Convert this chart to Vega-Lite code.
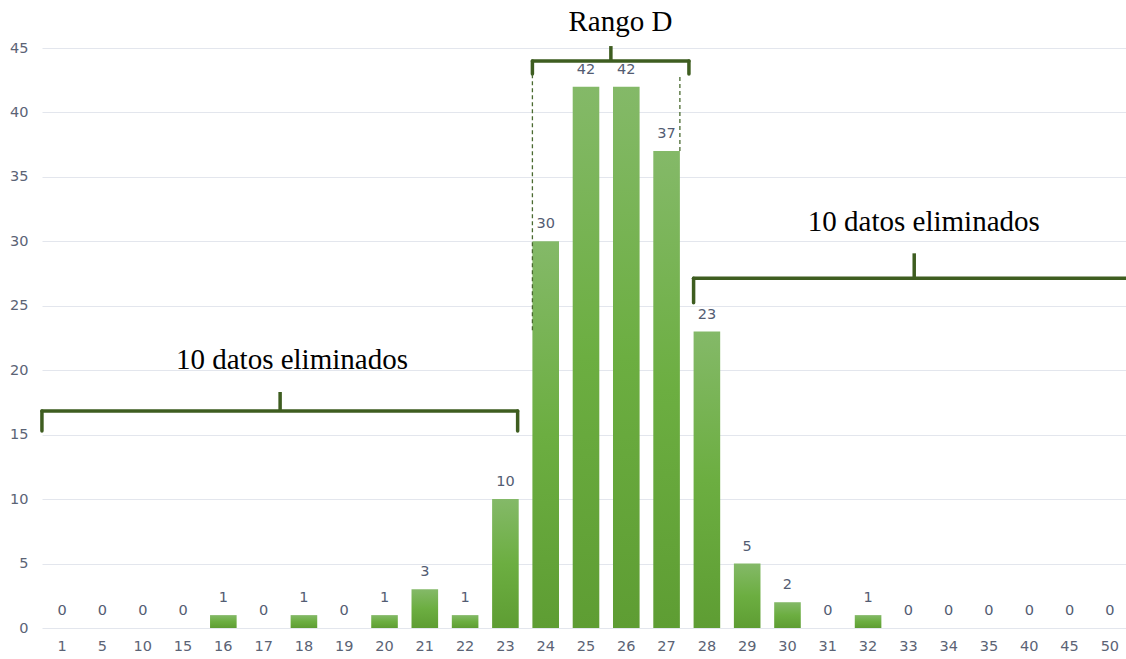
{
  "$schema": "https://vega.github.io/schema/vega-lite/v6.json",
  "width": 1084,
  "height": 580,
  "autosize": "none",
  "padding": {"left": 42, "top": 48, "right": 0, "bottom": 31},
  "background": "#ffffff",
  "config": {
    "view": {"stroke": null},
    "axis": {"labelFont": "DejaVu Sans", "labelFontSize": 14.5, "labelColor": "#5b6375"}
  },
  "data": {
    "values": [
      {"cat": "1", "count": 0}, {"cat": "5", "count": 0}, {"cat": "10", "count": 0},
      {"cat": "15", "count": 0}, {"cat": "16", "count": 1}, {"cat": "17", "count": 0},
      {"cat": "18", "count": 1}, {"cat": "19", "count": 0}, {"cat": "20", "count": 1},
      {"cat": "21", "count": 3}, {"cat": "22", "count": 1}, {"cat": "23", "count": 10},
      {"cat": "24", "count": 30}, {"cat": "25", "count": 42}, {"cat": "26", "count": 42},
      {"cat": "27", "count": 37}, {"cat": "28", "count": 23}, {"cat": "29", "count": 5},
      {"cat": "30", "count": 2}, {"cat": "31", "count": 0}, {"cat": "32", "count": 1},
      {"cat": "33", "count": 0}, {"cat": "34", "count": 0}, {"cat": "35", "count": 0},
      {"cat": "40", "count": 0}, {"cat": "45", "count": 0}, {"cat": "50", "count": 0}
    ]
  },
  "layer": [
    {
      "mark": {
        "type": "bar",
        "color": {
          "gradient": "linear", "x1": 0, "y1": 0, "x2": 0, "y2": 1,
          "stops": [
            {"offset": 0, "color": "#84b968"},
            {"offset": 0.5, "color": "#6cae41"},
            {"offset": 1, "color": "#5e9d33"}
          ]
        }
      },
      "encoding": {
        "x": {
          "field": "cat", "type": "ordinal", "title": null,
          "scale": {
            "domain": ["1","5","10","15","16","17","18","19","20","21","22","23","24","25","26","27","28","29","30","31","32","33","34","35","40","45","50"],
            "range": [0, 1088],
            "paddingInner": 0.34, "paddingOuter": 0.17
          },
          "axis": {"labelAngle": 0, "domain": false, "ticks": false, "grid": false, "labelPadding": 11}
        },
        "y": {
          "field": "count", "type": "quantitative", "title": null,
          "scale": {"domain": [0, 45], "nice": false},
          "axis": {
            "values": [0, 5, 10, 15, 20, 25, 30, 35, 40, 45],
            "domain": false, "ticks": false, "labelPadding": 14,
            "gridColor": "#e3e6ed", "gridWidth": 1
          }
        }
      }
    },
    {
      "mark": {"type": "text", "baseline": "alphabetic", "dy": -13, "font": "DejaVu Sans", "fontSize": 14.5, "color": "#535c72"},
      "encoding": {
        "x": {"field": "cat", "type": "ordinal", "title": null},
        "y": {"field": "count", "type": "quantitative", "title": null},
        "text": {"field": "count", "type": "quantitative"}
      }
    },
    {
      "data": {"values": [{"a": "1", "b": "23", "level": 16.84}]},
      "mark": {"type": "rule", "color": "#3e5d20", "strokeWidth": 3.5, "strokeCap": "round"},
      "encoding": {
        "x": {"field": "a", "type": "ordinal", "bandPosition": -0.26, "title": null},
        "x2": {"field": "b", "bandPosition": 0.96},
        "y": {"field": "level", "type": "quantitative", "title": null}
      }
    },
    {
      "data": {"values": [{"a": "1", "lo": 15.28, "hi": 16.84}]},
      "mark": {"type": "rule", "color": "#3e5d20", "strokeWidth": 3.5, "strokeCap": "round"},
      "encoding": {
        "x": {"field": "a", "type": "ordinal", "bandPosition": -0.26, "title": null},
        "y": {"field": "lo", "type": "quantitative", "title": null},
        "y2": {"field": "hi"}
      }
    },
    {
      "data": {"values": [{"a": "23", "lo": 15.28, "hi": 16.84}]},
      "mark": {"type": "rule", "color": "#3e5d20", "strokeWidth": 3.5, "strokeCap": "round"},
      "encoding": {
        "x": {"field": "a", "type": "ordinal", "bandPosition": 0.96, "title": null},
        "y": {"field": "lo", "type": "quantitative", "title": null},
        "y2": {"field": "hi"}
      }
    },
    {
      "data": {"values": [{"a": "17", "lo": 16.84, "hi": 18.31}]},
      "mark": {"type": "rule", "color": "#3e5d20", "strokeWidth": 3.5},
      "encoding": {
        "x": {"field": "a", "type": "ordinal", "bandPosition": 1.12, "title": null},
        "y": {"field": "lo", "type": "quantitative", "title": null},
        "y2": {"field": "hi"}
      }
    },
    {
      "data": {"values": [{"a": "24", "b": "27", "level": 43.99}]},
      "mark": {"type": "rule", "color": "#3e5d20", "strokeWidth": 3.5, "strokeCap": "round"},
      "encoding": {
        "x": {"field": "a", "type": "ordinal", "bandPosition": 0, "title": null},
        "x2": {"field": "b", "bandPosition": 1.34},
        "y": {"field": "level", "type": "quantitative", "title": null}
      }
    },
    {
      "data": {"values": [{"a": "24", "lo": 42.98, "hi": 43.99}]},
      "mark": {"type": "rule", "color": "#3e5d20", "strokeWidth": 3.5, "strokeCap": "round"},
      "encoding": {
        "x": {"field": "a", "type": "ordinal", "bandPosition": 0, "title": null},
        "y": {"field": "lo", "type": "quantitative", "title": null},
        "y2": {"field": "hi"}
      }
    },
    {
      "data": {"values": [{"a": "27", "lo": 42.98, "hi": 43.99}]},
      "mark": {"type": "rule", "color": "#3e5d20", "strokeWidth": 3.5, "strokeCap": "round"},
      "encoding": {
        "x": {"field": "a", "type": "ordinal", "bandPosition": 1.34, "title": null},
        "y": {"field": "lo", "type": "quantitative", "title": null},
        "y2": {"field": "hi"}
      }
    },
    {
      "data": {"values": [{"a": "26", "lo": 43.99, "hi": 45.15}]},
      "mark": {"type": "rule", "color": "#3e5d20", "strokeWidth": 3.5},
      "encoding": {
        "x": {"field": "a", "type": "ordinal", "bandPosition": -0.08, "title": null},
        "y": {"field": "lo", "type": "quantitative", "title": null},
        "y2": {"field": "hi"}
      }
    },
    {
      "data": {"values": [{"a": "24", "lo": 23.1, "hi": 42.98}]},
      "mark": {"type": "rule", "color": "#4a6a30", "strokeWidth": 1.3, "strokeDash": [4, 3]},
      "encoding": {
        "x": {"field": "a", "type": "ordinal", "bandPosition": 0, "title": null},
        "y": {"field": "lo", "type": "quantitative", "title": null},
        "y2": {"field": "hi"}
      }
    },
    {
      "data": {"values": [{"a": "27", "lo": 37, "hi": 42.98}]},
      "mark": {"type": "rule", "color": "#4a6a30", "strokeWidth": 1.3, "strokeDash": [4, 3]},
      "encoding": {
        "x": {"field": "a", "type": "ordinal", "bandPosition": 1.0, "title": null},
        "y": {"field": "lo", "type": "quantitative", "title": null},
        "y2": {"field": "hi"}
      }
    },
    {
      "data": {"values": [{"a": "28", "b": "50", "level": 27.13}]},
      "mark": {"type": "rule", "color": "#3e5d20", "strokeWidth": 3.5, "strokeCap": "round"},
      "encoding": {
        "x": {"field": "a", "type": "ordinal", "bandPosition": 0, "title": null},
        "x2": {"field": "b", "bandPosition": 1.3},
        "y": {"field": "level", "type": "quantitative", "title": null}
      }
    },
    {
      "data": {"values": [{"a": "28", "lo": 25.24, "hi": 27.13}]},
      "mark": {"type": "rule", "color": "#3e5d20", "strokeWidth": 3.5, "strokeCap": "round"},
      "encoding": {
        "x": {"field": "a", "type": "ordinal", "bandPosition": 0, "title": null},
        "y": {"field": "lo", "type": "quantitative", "title": null},
        "y2": {"field": "hi"}
      }
    },
    {
      "data": {"values": [{"a": "33", "lo": 27.13, "hi": 29.07}]},
      "mark": {"type": "rule", "color": "#3e5d20", "strokeWidth": 3.5},
      "encoding": {
        "x": {"field": "a", "type": "ordinal", "bandPosition": 0.72, "title": null},
        "y": {"field": "lo", "type": "quantitative", "title": null},
        "y2": {"field": "hi"}
      }
    },
    {
      "data": {"values": [{"a": "26", "level": 46.3, "label": "Rango D"}]},
      "mark": {"type": "text", "align": "center", "baseline": "alphabetic", "font": "Liberation Serif", "fontSize": 29, "color": "#000000"},
      "encoding": {
        "x": {"field": "a", "type": "ordinal", "bandPosition": 0.28, "title": null},
        "y": {"field": "level", "type": "quantitative", "title": null},
        "text": {"field": "label"}
      }
    },
    {
      "data": {"values": [{"a": "18", "level": 20.07, "label": "10 datos eliminados"}]},
      "mark": {"type": "text", "align": "center", "baseline": "alphabetic", "font": "Liberation Serif", "fontSize": 29, "color": "#000000"},
      "encoding": {
        "x": {"field": "a", "type": "ordinal", "bandPosition": 0.05, "title": null},
        "y": {"field": "level", "type": "quantitative", "title": null},
        "text": {"field": "label"}
      }
    },
    {
      "data": {"values": [{"a": "33", "level": 30.83, "label": "10 datos eliminados"}]},
      "mark": {"type": "text", "align": "center", "baseline": "alphabetic", "font": "Liberation Serif", "fontSize": 29, "color": "#000000"},
      "encoding": {
        "x": {"field": "a", "type": "ordinal", "bandPosition": 1.08, "title": null},
        "y": {"field": "level", "type": "quantitative", "title": null},
        "text": {"field": "label"}
      }
    }
  ]
}
